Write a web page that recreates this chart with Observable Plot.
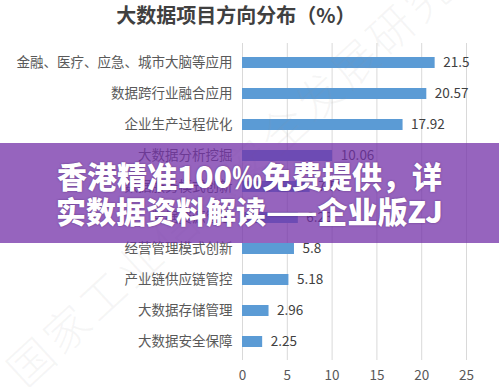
<!DOCTYPE html>
<html>
<head>
<meta charset="utf-8">
<script src="https://cdn.jsdelivr.net/npm/d3@7"></script>
<script src="https://cdn.jsdelivr.net/npm/@observablehq/plot@0.6"></script>
<style>
  html, body { margin: 0; padding: 0; background: #fff; }
  #wrap { position: relative; width: 499px; height: 387px; overflow: hidden; font-family: "Noto Sans CJK SC", "Noto Sans", sans-serif; }
  #title { position: absolute; left: 0; top: 1px; width: 472px; text-align: center; font-size: 20px; font-weight: bold; color: #404040; line-height: 28px; }
  #chart { position: absolute; left: 0; top: 0; }
  #wm { position: absolute; left: -72px; top: 134px; width: 640px; height: 50px; line-height: 50px; text-align: center; transform: rotate(-42.7deg); font-size: 45px; font-weight: 300; color: rgba(150,150,150,0.09); letter-spacing: 4px; white-space: nowrap; pointer-events: none; }
  #banner { position: absolute; left: 0; top: 143px; width: 499px; height: 100px; background: rgba(115,48,168,0.75); color: #fff; font-weight: 900; font-size: 30px; line-height: 35px; text-align: center; padding-top: 15px; box-sizing: border-box; text-shadow: 0 0 2px rgba(60,20,90,0.6); }
</style>
</head>
<body>
<div id="wrap">
  <div id="chart"></div>
  <div id="title"></div>
  <div id="wm"></div>
  <div id="banner"></div>
</div>
<script>
const titleText = "大数据项目方向分布（%）";
const bannerLines = ["香港精准100‰免费提供，详", "实数据资料解读——企业版ZJ"];
const watermarkText = "国家工业信息安全发展研究中心";

const categories = [
  "金融、医疗、应急、城市大脑等应用",
  "数据跨行业融合应用",
  "企业生产过程优化",
  "大数据分析挖掘",
  "数据服务模式创新",
  "数据资源管理",
  "经营管理模式创新",
  "产业链供应链管控",
  "大数据存储管理",
  "大数据安全保障"
];
const values = [21.5, 20.57, 17.92, 10.06, 7.55, 6.23, 5.8, 5.18, 2.96, 2.25];
const xTicks = [0, 5, 10, 15, 20, 25];

const data = categories.map((c, i) => ({category: c, value: values[i]}));

document.getElementById("title").textContent = titleText;
document.getElementById("wm").textContent = watermarkText;
document.getElementById("banner").innerHTML = bannerLines.map(s => `<div>${s}</div>`).join("");

const chart = Plot.plot({
  width: 499,
  height: 387,
  marginTop: 43,
  marginBottom: 27,
  marginLeft: 242,
  marginRight: 33,
  style: {fontFamily: "'Noto Sans CJK SC', sans-serif", fontSize: "13.5px", color: "#595959", background: "transparent"},
  x: {domain: [0, 25], ticks: xTicks, label: null},
  y: {domain: categories, paddingInner: 0.65, paddingOuter: 0.31, label: null},
  marks: [
    Plot.ruleX(xTicks, {stroke: "#d9d9d9", strokeWidth: 1}),
    Plot.barX(data, {x: "value", y: "category", fill: "#5b9bd5"}),
    Plot.text(data, {x: "value", y: "category", text: d => String(d.value), textAnchor: "start", dx: 8, fill: "#404040", fontSize: 13.5}),
    Plot.axisX({ticks: xTicks, tickSize: 0, tickPadding: 10, fontSize: 13.5, fill: "#595959", label: null}),
    Plot.axisY({tickSize: 0, tickPadding: 10, fontSize: 13.5, fill: "#595959", label: null})
  ]
});
document.getElementById("chart").appendChild(chart);
</script>
</body>
</html>
